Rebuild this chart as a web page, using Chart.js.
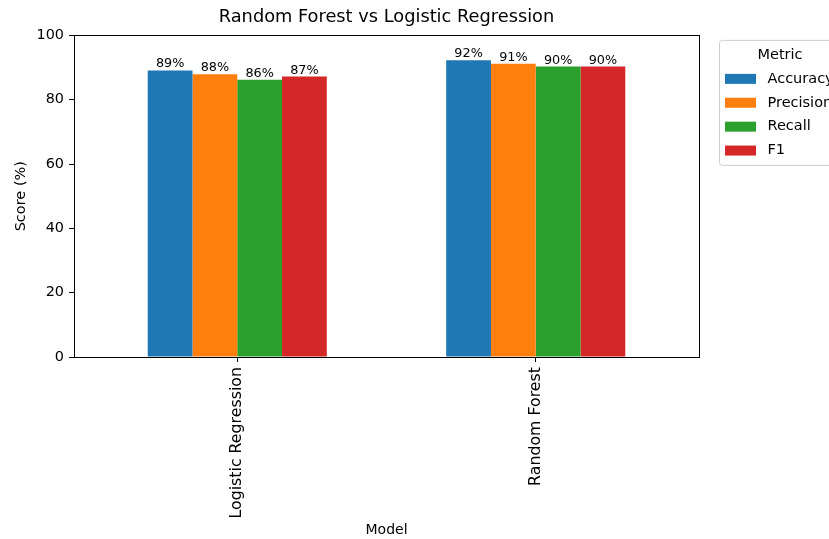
<!DOCTYPE html>
<html><head><meta charset="utf-8">
<script src="https://cdn.jsdelivr.net/npm/chart.js@4.4.0/dist/chart.umd.min.js"></script>
<style>html,body{margin:0;padding:0;background:#fff;overflow:hidden}#wrap{width:829px;height:539px;position:relative;overflow:hidden}</style>
</head><body><div id="wrap"><canvas id="c" width="829" height="539"></canvas></div>
<script>
const categories = ['Logistic Regression', 'Random Forest'];
const metrics = ['Accuracy', 'Precision', 'Recall', 'F1'];
const accuracy = [89.1, 92.3];
const precision = [87.9, 91.2];
const recall = [86.2, 90.3];
const f1 = [87.2, 90.3];
const yTicks = [0, 20, 40, 60, 80, 100];
const colors = ['#1f77b4', '#ff7f0e', '#2ca02c', '#d62728'];
const seriesValues = [accuracy, precision, recall, f1];

const FONT = 'DejaVu Sans';
Chart.defaults.font.family = FONT;
Chart.defaults.color = '#000';

const datasets = metrics.map((m, i) => ({
  label: m,
  data: seriesValues[i].map((v, j) => ({x: j, y: v})),
  backgroundColor: colors[i],
  borderWidth: 0,
  barPercentage: 1.0,
  categoryPercentage: 0.6
}));

const extras = {
  id: 'extras',
  afterDatasetsDraw(chart) {
    const ctx = chart.ctx;
    ctx.save();
    ctx.font = '12.8px ' + FONT;
    ctx.fillStyle = '#000';
    ctx.textAlign = 'center';
    ctx.textBaseline = 'alphabetic';
    chart.data.datasets.forEach((ds, i) => {
      const meta = chart.getDatasetMeta(i);
      meta.data.forEach((bar, j) => {
        ctx.fillText(Math.round(seriesValues[i][j]) + '%', bar.x, bar.y - 3);
      });
    });
    ctx.restore();
  },
  afterDraw(chart) {
    const ctx = chart.ctx;
    const a = chart.chartArea;
    ctx.save();
    ctx.strokeStyle = '#000';
    ctx.lineWidth = 1;
    ctx.strokeRect(Math.round(a.left) + 0.5, Math.round(a.top) + 0.5, Math.round(a.right - a.left), Math.round(a.bottom - a.top));
    // legend
    const lx = a.right + 20, ly = a.top + 4.5, lw = 124, lh = 125;
    ctx.beginPath();
    ctx.roundRect(lx + 0.5, ly + 0.5, lw, lh, 3);
    ctx.fillStyle = 'rgba(255,255,255,0.8)';
    ctx.fill();
    ctx.strokeStyle = '#cccccc';
    ctx.stroke();
    ctx.fillStyle = '#000';
    ctx.font = '14.5px ' + FONT;
    ctx.textAlign = 'center';
    ctx.textBaseline = 'middle';
    ctx.fillText('Metric', lx + 61, ly + 15);
    ctx.textAlign = 'left';
    metrics.forEach((m, i) => {
      const cy = ly + 39 + i * 23.9;
      ctx.fillStyle = colors[i];
      ctx.fillRect(lx + 6, cy - 5, 31, 10);
      ctx.fillStyle = '#000';
      ctx.fillText(m, lx + 48.5, cy);
    });
    ctx.restore();
  }
};

new Chart(document.getElementById('c'), {
  type: 'bar',
  data: {datasets},
  options: {
    responsive: false,
    animation: false,
    layout: {padding: {left: 0, right: 130, top: 0, bottom: 0}},
    plugins: {
      legend: {display: false},
      tooltip: {enabled: false},
      title: {
        display: true,
        fullSize: false,
        text: 'Random Forest vs Logistic Regression',
        font: {size: 17.8, weight: 'normal'},
        color: '#000',
        padding: {top: 7, bottom: 7}
      }
    },
    scales: {
      x: {
        type: 'linear',
        min: -0.547,
        max: 1.547,
        offset: false,
        afterBuildTicks(scale) { scale.ticks = categories.map((c, i) => ({value: i})); },
        afterFit(scale) { scale.height = 182; },
        ticks: {
          autoSkip: false,
          minRotation: 90,
          maxRotation: 90,
          padding: 5,
          font: {size: 15.8},
          callback: (v) => categories[v]
        },
        grid: {display: true, offset: false, drawOnChartArea: false, drawTicks: true, tickLength: 5, color: '#000'},
        border: {display: true, color: '#000', width: 1},
        title: {display: true, text: 'Model', font: {size: 14}, padding: {top: 0, bottom: 0}}
      },
      y: {
        min: 0,
        max: 100,
        afterBuildTicks(scale) { scale.ticks = yTicks.map(v => ({value: v})); },
        afterFit(scale) { scale.width = 74; },
        ticks: {padding: 5, font: {size: 14.4}},
        grid: {display: true, drawOnChartArea: false, drawTicks: true, tickLength: 5, color: '#000'},
        border: {display: true, color: '#000', width: 1},
        title: {display: true, text: 'Score (%)', font: {size: 14.5}, padding: {top: 13, bottom: 0}}
      }
    }
  },
  plugins: [extras]
});
</script></body></html>
